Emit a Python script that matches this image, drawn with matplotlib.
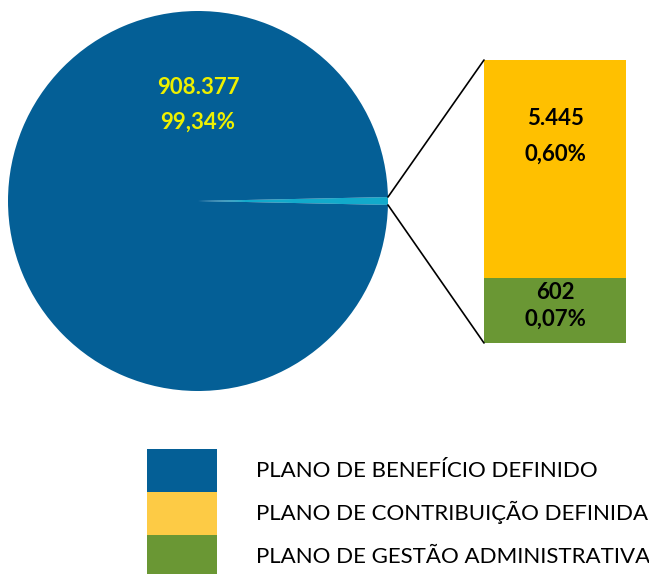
import matplotlib
matplotlib.use('Agg')
import matplotlib.pyplot as plt
from matplotlib.patches import Patch, ConnectionPatch
import numpy as np

plt.rcParams['font.family'] = ['Lato', 'DejaVu Sans']

planos = ['PLANO DE BENEFÍCIO DEFINIDO', 'PLANO DE CONTRIBUIÇÃO DEFINIDA',
          'PLANO DE GESTÃO ADMINISTRATIVA']
valores = [908377, 5445, 602]
rotulos_valor = ['908.377', '5.445', '602']
rotulos_pct = ['99,34%', '0,60%', '0,07%']

cor_pizza = '#045f96'
cor_fatia = '#12aacb'
cores_barra = ['#ffc000', '#6a9734']
cores_legenda = ['#045f96', '#fdcb45', '#6a9734']

W, H = 649, 574
fig = plt.figure(figsize=(W / 100, H / 100), dpi=100)

# pizza
ax1 = fig.add_axes([8 / W, 1 - 391 / H, 380 / W, 380 / H])
resto = sum(valores[1:])
theta = 360 * resto / sum(valores)
ax1.pie([resto, valores[0]], colors=[cor_fatia, cor_pizza], startangle=-theta / 2,
        radius=1, wedgeprops=dict(linewidth=0))
ax1.set_xlim(-1, 1)
ax1.set_ylim(-1, 1)
ax1.set_aspect('equal')
ax1.axis('off')
ax1.text(0.0, 0.60, rotulos_valor[0], color='#eef000', fontsize=16, fontweight='bold',
         ha='center', va='center')
ax1.text(0.0, 0.415, rotulos_pct[0], color='#eef000', fontsize=16, fontweight='bold',
         ha='center', va='center')

# barra (altura comprimida para o bloco pequeno ficar visível)
ax2 = fig.add_axes([484 / W, 1 - 343 / H, 142 / W, 283 / H])
alturas = np.array(valores[1:], dtype=float) ** 0.55
base = 0
for i in [1, 0]:
    ax2.bar(0, alturas[i], bottom=base, width=1, color=cores_barra[i], linewidth=0)
    base += alturas[i]
ax2.set_xlim(-0.5, 0.5)
ax2.set_ylim(0, alturas.sum())
ax2.axis('off')
topo = alturas.sum()
ax2.text(0, alturas[1] + alturas[0] * 0.73, rotulos_valor[1], fontsize=16,
         fontweight='bold', ha='center', va='center')
ax2.text(0, alturas[1] + alturas[0] * 0.57, rotulos_pct[1], fontsize=16,
         fontweight='bold', ha='center', va='center')
ax2.text(0, alturas[1] * 0.78, rotulos_valor[2], fontsize=16,
         fontweight='bold', ha='center', va='center')
ax2.text(0, alturas[1] * 0.37, rotulos_pct[2], fontsize=16,
         fontweight='bold', ha='center', va='center')

# linhas de ligação
r = np.deg2rad(theta / 2)
for sinal, ybar in [(1, topo), (-1, 0)]:
    con = ConnectionPatch(xyA=(np.cos(r), sinal * np.sin(r)), coordsA=ax1.transData,
                          xyB=(-0.5, ybar), coordsB=ax2.transData,
                          color='black', linewidth=1.2)
    fig.add_artist(con)

# legenda
handles = [Patch(facecolor=c, edgecolor='none') for c in cores_legenda]
fs = 16
px = fs * 100 / 72
hh = (43 / px - 0.245) / 0.65
fig.legend(handles, planos, loc='upper left', bbox_to_anchor=(147 / W, 1 - 449 / H),
           frameon=False, fontsize=fs, handlelength=70 / px, handleheight=hh,
           labelspacing=0, handletextpad=39 / px, borderpad=0, borderaxespad=0)

fig.savefig('out.png', dpi=100)
